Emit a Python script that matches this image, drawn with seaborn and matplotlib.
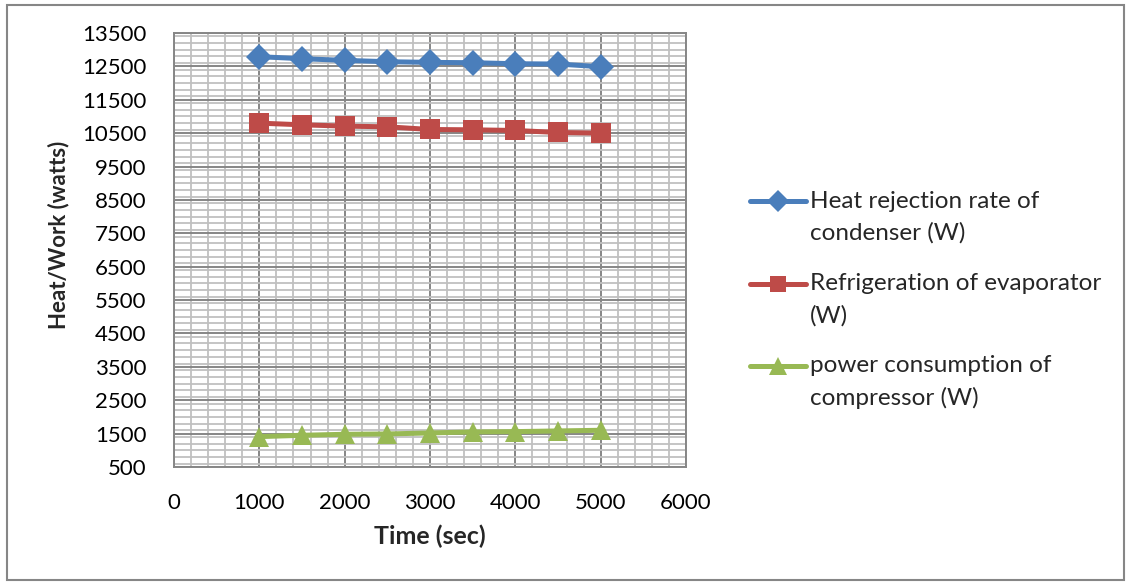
import matplotlib
matplotlib.use("Agg")
import matplotlib.pyplot as plt
from matplotlib.ticker import MultipleLocator
from matplotlib.patches import Rectangle
import seaborn as sns
import pandas as pd

# ---- data ----
time_sec = [1000, 1500, 2000, 2500, 3000, 3500, 4000, 4500, 5000]
heat_rejection = [12790, 12730, 12680, 12640, 12620, 12610, 12580, 12570, 12490]
refrigeration = [10800, 10750, 10710, 10690, 10610, 10600, 10580, 10520, 10500]
power = [1410, 1450, 1480, 1490, 1520, 1550, 1560, 1580, 1600]

series_names = ["Heat rejection rate of\ncondenser (W)",
                "Refrigeration of evaporator\n(W)",
                "power consumption of\ncompressor (W)"]
series_values = [heat_rejection, refrigeration, power]
colors = ["#4A7EBB", "#BE4B48", "#98B954"]
markers = ["D", "s", "^"]
msizes = [13.5, 14, 15]

x_ticks = [0, 1000, 2000, 3000, 4000, 5000, 6000]
y_ticks = list(range(500, 13501, 1000))

sns.set_theme(style="white")
plt.rcParams["font.family"] = ["Lato", "DejaVu Sans"]

fig = plt.figure(figsize=(11.3, 5.85), dpi=100)
ax = fig.add_axes([174 / 1130, 1 - 467 / 585, 512 / 1130, 434 / 585])

for name, vals, c, m, ms in zip(series_names, series_values, colors, markers, msizes):
    df = pd.DataFrame({"Time": time_sec, "Value": vals})
    sns.lineplot(data=df, x="Time", y="Value", ax=ax, color=c, marker=m,
                 markersize=ms, markeredgewidth=0, linewidth=3.6, label=name,
                 zorder=3)

ax.set_xlim(0, 6000)
ax.set_ylim(500, 13500)
ax.set_xticks(x_ticks)
ax.set_yticks(y_ticks)
ax.xaxis.set_minor_locator(MultipleLocator(200))
ax.yaxis.set_minor_locator(MultipleLocator(200))
ax.grid(which="major", color="#868686", linewidth=1.4, zorder=1)
ax.grid(which="minor", color="#C0C0C0", linewidth=1.3, zorder=0)
ax.set_axisbelow(True)
for s in ax.spines.values():
    s.set_color("#868686")
    s.set_linewidth(1.4)
ax.tick_params(axis="both", which="major", direction="out", length=6,
               width=1.4, color="#868686", labelsize=16, labelcolor="black")
ax.tick_params(axis="x", pad=13)
ax.tick_params(axis="y", pad=14)
ax.tick_params(which="minor", length=0)
ax.set_xlabel("Time (sec)", fontsize=18, fontweight="bold", labelpad=8)
ax.set_ylabel("Heat/Work (watts)", fontsize=16, fontweight="bold")
ax.yaxis.set_label_coords(-0.205, 0.535)

leg = ax.legend(loc="upper left", bbox_to_anchor=(750 / 1130, 1 - 191 / 585),
                bbox_transform=fig.transFigure, frameon=False, fontsize=17.5,
                handlelength=2.3, handleheight=1.2, handletextpad=0.15,
                labelspacing=1.2, borderaxespad=0, borderpad=0,
                markerscale=0.85)
for t in leg.get_texts():
    t.set_linespacing(1.6)
# align each handle with the first line of its (two-line) label
box = getattr(leg, "_legend_handle_box", None)
if box is not None:
    for col in box.get_children():
        for row in col.get_children():
            if hasattr(row, "align"):
                row.align = "top"

fig.patches.append(Rectangle((7 / 1130, 5 / 585), 1117 / 1130, 575 / 585,
                             transform=fig.transFigure, fill=False,
                             edgecolor="#868686", linewidth=1.5))

fig.savefig("out.png", dpi=100)
